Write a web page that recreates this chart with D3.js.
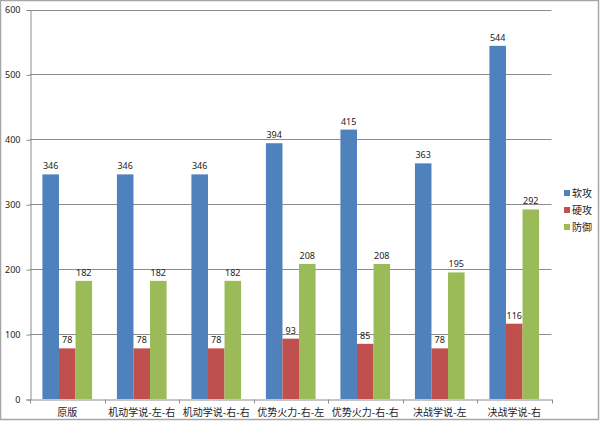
<!DOCTYPE html>
<html><head><meta charset="utf-8">
<script src="https://cdn.jsdelivr.net/npm/d3@7"></script>
<style>body{margin:0;background:#fff}svg{display:block}</style>
</head><body>
<script>
const categories = ["原版","机动学说-左-右","机动学说-右-右","优势火力-右-左","优势火力-右-右","决战学说-左","决战学说-右"];
const seriesNames = ["软攻","硬攻","防御"];
const softAttack = [346,346,346,394,415,363,544];
const hardAttack = [78,78,78,93,85,78,116];
const defense = [182,182,182,208,208,195,292];
const yTicks = [0,100,200,300,400,500,600];
const colors = ["#4F81BD","#C0504D","#9BBB59"];
const seriesValues = [softAttack, hardAttack, defense];

const W = 600, H = 422;
const svg = d3.select("body").append("svg").attr("width", W).attr("height", H);
const m = {left:30, right:48.5, top:9.5, bottom:23};
const x0 = d3.scaleBand().domain(categories).range([m.left, W - m.right]).paddingInner(0).paddingOuter(0);
const x1 = d3.scaleBand().domain(seriesNames).range([0, x0.bandwidth()]).paddingInner(0).paddingOuter(0.75);
const y = d3.scaleLinear().domain([0,600]).range([H - m.bottom, m.top]);
const font = "'Noto Sans','Liberation Sans',sans-serif";
const cjk = "'Noto Sans CJK SC',sans-serif";

// border
svg.append("rect").attr("x",0.5).attr("y",0.5).attr("width",598).attr("height",419)
  .attr("fill","none").attr("stroke","#a6a6a6").attr("stroke-width",1.5);

// gridlines
svg.append("g").selectAll("line").data(yTicks.filter(d=>d>0)).join("line")
  .attr("x1", m.left).attr("x2", W - m.right)
  .attr("y1", d => Math.round(y(d))+0.5).attr("y2", d => Math.round(y(d))+0.5)
  .attr("stroke","#8c8c8c").attr("stroke-width",1);

// y axis
const yAxis = d3.axisLeft(y).tickValues(yTicks).tickSize(4).tickPadding(6);
const gy = svg.append("g").attr("transform",`translate(${m.left+0.5},0.5)`).call(yAxis);
gy.select(".domain").attr("stroke","#8c8c8c");
gy.selectAll(".tick line").attr("stroke","#8c8c8c");
gy.selectAll("text").attr("font-family",font).attr("font-size",9).attr("fill","#222");

// bars
const groups = svg.append("g").selectAll("g").data(categories).join("g")
  .attr("transform", d => `translate(${x0(d)},0)`);
groups.selectAll("rect").data((c,i) => seriesNames.map((s,j) => ({s, v: seriesValues[j][i], j})))
  .join("rect")
  .attr("x", d => x1(d.s)).attr("width", x1.bandwidth())
  .attr("y", d => y(d.v)).attr("height", d => y(0) - y(d.v))
  .attr("fill", d => colors[d.j]);
groups.selectAll("text").data((c,i) => seriesNames.map((s,j) => ({s, v: seriesValues[j][i], j})))
  .join("text")
  .attr("x", d => x1(d.s) + x1.bandwidth()/2).attr("y", d => y(d.v) - 5)
  .attr("text-anchor","middle").attr("font-family",font).attr("font-size",9).attr("fill","#222")
  .text(d => d.v);

// x axis
const xAxis = d3.axisBottom(x0).tickSize(0).tickPadding(9);
const gx = svg.append("g").attr("transform",`translate(0,${y(0)+0.5})`).call(xAxis);
gx.select(".domain").attr("stroke","#8c8c8c");
gx.selectAll("text").attr("font-family",cjk).attr("font-size",10).attr("fill","#222");
// boundary ticks
gx.append("g").selectAll("line").data(categories.map(c => x0(c)).concat([x0.range()[1]])).join("line")
  .attr("x1", d => Math.round(d)+0.5).attr("x2", d => Math.round(d)+0.5).attr("y1",0).attr("y2",4)
  .attr("stroke","#8c8c8c");

// legend
const lg = svg.append("g").selectAll("g").data(seriesNames).join("g")
  .attr("transform",(d,i) => `translate(564,${193 + i*17})`);
lg.append("rect").attr("x",0).attr("y",-3).attr("width",6).attr("height",6).attr("fill",(d,i)=>colors[i]);
lg.append("text").attr("x",8).attr("y",0).attr("dy","0.35em").attr("font-family",cjk).attr("font-size",10).attr("fill","#222").text(d=>d);
</script>
</body></html>
